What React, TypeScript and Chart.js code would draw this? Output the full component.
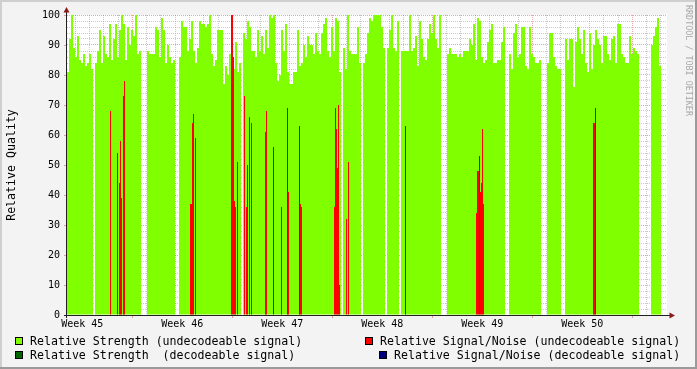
import React, { useEffect, useRef } from 'react';
import { Chart, registerables } from 'chart.js';

Chart.register(...registerables);

const MONO = '"DejaVu Sans Mono", "Liberation Mono", monospace';

// Time axis in hours, counted from Monday 00:00 of week 45
const startHour = 58.3;
const sampleHours = 1.68;
const sampleCount = 600;
const endHour = startHour + sampleCount * sampleHours;

const weekLabels = ['Week 45', 'Week 46', 'Week 47', 'Week 48', 'Week 49', 'Week 50'];
const yLabels = ['0', '10', '20', '30', '40', '50', '60', '70', '80', '90', '100'];

// Relative Strength (undecodeable), one value per 2 samples
const strengthUndecodeable: (number | null)[] = [
  81, 92, 100, 89, 86, 93, 85, 84, 87, 83,
  84, 87, 82, null, 84, 88, 95, 84, 93, 87,
  86, 97, 85, 92, 97, 86, 95, 100, 97, 85,
  96, 90, 95, 93, 100, 87, 88, null, null, null,
  88, 87, 87, 87, 96, 95, 86, 99, 95, 84,
  90, 86, 84, 85, null, null, 86, 98, 96, 96,
  88, 92, 98, 88, 84, 89, 98, 97, 97, 96,
  97, 100, 87, 83, 85, 95, 95, 95, 77, 83,
  80, 87, 100, 82, 91, 81, 84, null, 94, 92,
  98, 96, 88, 88, 86, 95, 88, 93, 87, 95,
  89, 100, 99, 100, 84, 78, 80, 95, 88, 97,
  81, 77, 77, 81, 81, 95, 83, 84, 90, 86,
  93, 90, 90, 87, 94, 88, 87, 94, 97, 99,
  88, 86, 96, 88, 99, 98, 81, null, 89, 82,
  100, 88, 87, 87, 87, 96, 84, null, 84, 87,
  94, 99, 98, 100, 100, 100, 100, 96, 89, null,
  89, 95, 100, 89, 88, 98, null, 88, 88, 88,
  88, 100, 88, 89, 93, 83, 98, 92, 86, 85,
  92, 97, 94, 100, 92, 89, 100, null, null, null,
  87, 89, 87, 87, 87, 86, 87, 86, 88, 88,
  88, 92, 90, 97, 85, 99, 98, 86, 84, 85,
  91, 95, 97, 84, 84, 85, 85, 91, 96, null,
  null, 87, 82, 94, 97, 86, 87, 96, 96, 83,
  82, 96, 87, 86, 84, 84, 85, null, null, null,
  84, 94, 94, 86, 83, 82, 82, null, null, 92,
  85, 92, 92, 76, 91, 96, 92, 87, 95, 84,
  81, 94, 82, 90, 95, 92, 90, 84, 93, 93,
  87, 85, 92, 93, 84, 97, 97, 87, 86, 84,
  84, 93, 87, 89, 88, 87, null, null, null, null,
  null, null, 90, 93, 96, 99, 83, null, null, null,
];

// Relative Signal/Noise (undecodeable): [sample, value]
const snrUndecodeable: [number, number][] = [
  [43, 68], [50, 54], [52, 44], [53, 58], [54, 39], [56, 73], [57, 78],
  [123, 37], [124, 37], [125, 64], [126, 67], [128, 59],
  [164, 100], [165, 100], [166, 86], [167, 38], [168, 36], [170, 51],
  [177, 73], [179, 36], [180, 50], [182, 66], [184, 64], [198, 61], [199, 68],
  [214, 36], [221, 41], [233, 37], [234, 36],
  [267, 36], [268, 69], [269, 62], [270, 49], [271, 70], [272, 10],
  [279, 32], [281, 51],
  [409, 34], [410, 48], [411, 48], [413, 41], [414, 44], [415, 62], [416, 37],
  [526, 64], [527, 64],
];

// Relative Strength (decodeable): [sample, value]
const strengthDecodeable: [number, number][] = [
  [206, 56], [220, 69], [232, 63], [338, 63], [412, 53], [528, 69],
];

// Relative Signal/Noise (decodeable): no visible samples
const snrDecodeable: [number, number][] = [];

const COL_STRENGTH_U = '#7fff00';
const COL_SNR_U = '#ff0000';
const COL_STRENGTH_D = '#006600';
const COL_SNR_D = '#00007f';
const GRID = 'rgba(140,140,140,0.45)';
const MGRID = 'rgba(200,40,40,0.42)';

const dayTicks: number[] = [];
for (let h = 72; h < endHour; h += 24) dayTicks.push(h);
const weekMid = weekLabels.map((_, k) => 84 + 168 * k);
const yTicks: number[] = [];
for (let v = 0; v <= 100; v += 2) yTicks.push(v);

const sparse = (list: [number, number][]) =>
  list.map(([s, v]) => ({ x: startHour + (s + 0.5) * sampleHours, y: v }));

const rrdPlugin = {
  id: 'rrdFrame',
  beforeDraw(chart: any) {
    const { ctx, chartArea: a, width, height } = chart;
    ctx.save();
    ctx.fillStyle = '#f3f3f3';
    ctx.fillRect(0, 0, width, height);
    ctx.fillStyle = '#ffffff';
    ctx.fillRect(a.left, a.top, a.right - a.left, a.bottom - a.top);
    ctx.restore();
  },
  afterDraw(chart: any) {
    const { ctx, chartArea: a, width, height } = chart;
    ctx.save();
    // small grid ticks outside the plot
    ctx.fillStyle = MGRID;
    for (const h of dayTicks) {
      if (h % 168 !== 0) continue;
      const px = Math.round(chart.scales.x.getPixelForValue(h));
      ctx.fillRect(px, a.bottom + 1, 1, 2);
    }
    for (let v = 10; v <= 100; v += 10) {
      const py = Math.round(chart.scales.y.getPixelForValue(v));
      ctx.fillRect(a.left - 3, py, 2, 1);
    }
    // axes
    ctx.fillStyle = '#202020';
    ctx.fillRect(a.left - 3, a.bottom, a.right - a.left + 6, 1);
    ctx.fillRect(a.left - 1, a.top - 4, 1, a.bottom - a.top + 7);
    // arrows
    ctx.fillStyle = '#8b1a1a';
    ctx.beginPath();
    ctx.moveTo(a.left - 0.5, a.top - 8);
    ctx.lineTo(a.left - 3.5, a.top - 2.5);
    ctx.lineTo(a.left + 2.5, a.top - 2.5);
    ctx.closePath();
    ctx.fill();
    ctx.beginPath();
    ctx.moveTo(a.right + 8, a.bottom + 0.5);
    ctx.lineTo(a.right + 2.5, a.bottom - 2.5);
    ctx.lineTo(a.right + 2.5, a.bottom + 3.5);
    ctx.closePath();
    ctx.fill();

    // legend
    const box = (x: number, y: number, c: string) => {
      ctx.fillStyle = c;
      ctx.fillRect(x, y, 8, 8);
      ctx.strokeStyle = '#000';
      ctx.lineWidth = 1;
      ctx.strokeRect(x + 0.5, y + 0.5, 7, 7);
    };
    ctx.font = `11.6px ${MONO}`;
    ctx.textBaseline = 'alphabetic';
    ctx.textAlign = 'left';
    box(15, 337, COL_STRENGTH_U);
    box(365, 337, COL_SNR_U);
    box(15, 351, COL_STRENGTH_D);
    box(379, 351, COL_SNR_D);
    ctx.fillStyle = '#000';
    ctx.fillText('Relative Strength (undecodeable signal)', 30, 345);
    ctx.fillText('Relative Signal/Noise (undecodeable signal)', 380, 345);
    ctx.fillText('Relative Strength  (decodeable signal)', 30, 359);
    ctx.fillText('Relative Signal/Noise (decodeable signal)', 394, 359);

    // watermark
    ctx.save();
    ctx.translate(688.5, 5);
    ctx.rotate(Math.PI / 2);
    ctx.font = `8.4px ${MONO}`;
    ctx.fillStyle = '#a8a8a8';
    ctx.textBaseline = 'middle';
    ctx.fillText('RRDTOOL / TOBI OETIKER', 0, 0);
    ctx.restore();

    // frame
    ctx.fillStyle = '#cfcfcf';
    ctx.fillRect(0, 0, width, 2);
    ctx.fillRect(0, 0, 2, height);
    ctx.fillStyle = '#9a9a9a';
    ctx.fillRect(0, height - 2, width, 2);
    ctx.fillRect(width - 2, 0, 2, height);
    ctx.restore();
  },
};

export default function App() {
  const ref = useRef<HTMLCanvasElement | null>(null);

  useEffect(() => {
    document.body.style.margin = '0';
    const canvas = ref.current;
    if (!canvas) return;

    const greenPoints = strengthUndecodeable.map((v, i) => ({
      x: startHour + (2 * i + 1) * sampleHours,
      y: v,
    }));

    const barCommon = {
      grouped: false,
      categoryPercentage: 1,
      barPercentage: 1,
      borderWidth: 0,
      inflateAmount: 0,
      yAxisID: 'y',
    };

    const chart = new Chart(canvas, {
      type: 'bar',
      data: {
        datasets: [
          {
            ...barCommon,
            label: 'Relative Signal/Noise (decodeable signal)',
            data: sparse(snrDecodeable),
            backgroundColor: COL_SNR_D,
            xAxisID: 'xr',
            barThickness: 1,
            maxBarThickness: 1,
            order: 0,
          },
          {
            ...barCommon,
            label: 'Relative Strength  (decodeable signal)',
            data: sparse(strengthDecodeable),
            backgroundColor: COL_STRENGTH_D,
            xAxisID: 'xr',
            barThickness: 1,
            maxBarThickness: 1,
            order: 1,
          },
          {
            ...barCommon,
            label: 'Relative Signal/Noise (undecodeable signal)',
            data: sparse(snrUndecodeable),
            backgroundColor: COL_SNR_U,
            xAxisID: 'xr',
            barThickness: 1,
            maxBarThickness: 1,
            order: 2,
          },
          {
            ...barCommon,
            label: 'Relative Strength (undecodeable signal)',
            data: greenPoints,
            backgroundColor: COL_STRENGTH_U,
            xAxisID: 'x',
            barThickness: 2,
            maxBarThickness: 2,
            order: 3,
          },
        ] as any,
      },
      options: {
        responsive: false,
        animation: false,
        events: [],
        layout: { padding: { top: 15, right: 30, left: 0, bottom: 0 }, autoPadding: false } as any,
        plugins: { legend: { display: false }, tooltip: { enabled: false } },
        scales: {
          x: {
            type: 'linear',
            position: 'bottom',
            min: startHour,
            max: endHour,
            bounds: 'data',
            offset: false,
            z: 1,
            afterBuildTicks: (s: any) => {
              s.ticks = dayTicks.map((v) => ({ value: v }));
            },
            afterFit: (s: any) => {
              s.height = 0;
            },
            ticks: { display: false, autoSkip: false },
            grid: {
              offset: false,
              drawTicks: false,
              lineWidth: 1,
              color: (c: any) => (c.tick && c.tick.value % 168 === 0 ? MGRID : GRID),
            },
            border: { display: false, dash: [1, 1] },
          },
          xw: {
            type: 'linear',
            position: 'bottom',
            min: startHour,
            max: endHour,
            bounds: 'data',
            offset: false,
            afterBuildTicks: (s: any) => {
              s.ticks = weekMid.map((v) => ({ value: v }));
            },
            afterFit: (s: any) => {
              s.height = 54;
            },
            grid: { display: false, drawTicks: false, offset: false },
            border: { display: false },
            ticks: {
              autoSkip: false,
              maxRotation: 0,
              minRotation: 0,
              padding: 3,
              color: '#000',
              font: { family: MONO, size: 10 },
              callback: (_v: any, i: number) => weekLabels[i],
            },
          },
          xr: {
            type: 'linear',
            min: startHour,
            max: endHour,
            bounds: 'data',
            offset: false,
            grid: { offset: false },
            display: false,
          },
          y: {
            type: 'linear',
            position: 'left',
            min: 0,
            max: 100,
            z: 1,
            afterBuildTicks: (s: any) => {
              s.ticks = yTicks.map((v) => ({ value: v }));
            },
            afterFit: (s: any) => {
              s.width = 67;
            },
            ticks: {
              autoSkip: false,
              padding: 7,
              color: '#000',
              font: { family: MONO, size: 10 },
              callback: (v: any) => (v % 10 === 0 ? yLabels[v / 10] : ''),
            },
            grid: {
              drawTicks: false,
              lineWidth: 1,
              color: (c: any) => (c.tick && c.tick.value % 10 === 0 ? MGRID : GRID),
            },
            border: { display: false, dash: [1, 1] },
            title: {
              display: true,
              text: 'Relative Quality',
              color: '#000',
              font: { family: MONO, size: 11.6 },
              padding: { top: 5, bottom: 0 },
            },
          },
        } as any,
      },
      plugins: [rrdPlugin],
    });

    return () => chart.destroy();
  }, []);

  return (
    <div style={{ width: 697, height: 369 }}>
      <canvas ref={ref} width={697} height={369} style={{ display: 'block' }} />
    </div>
  );
}
